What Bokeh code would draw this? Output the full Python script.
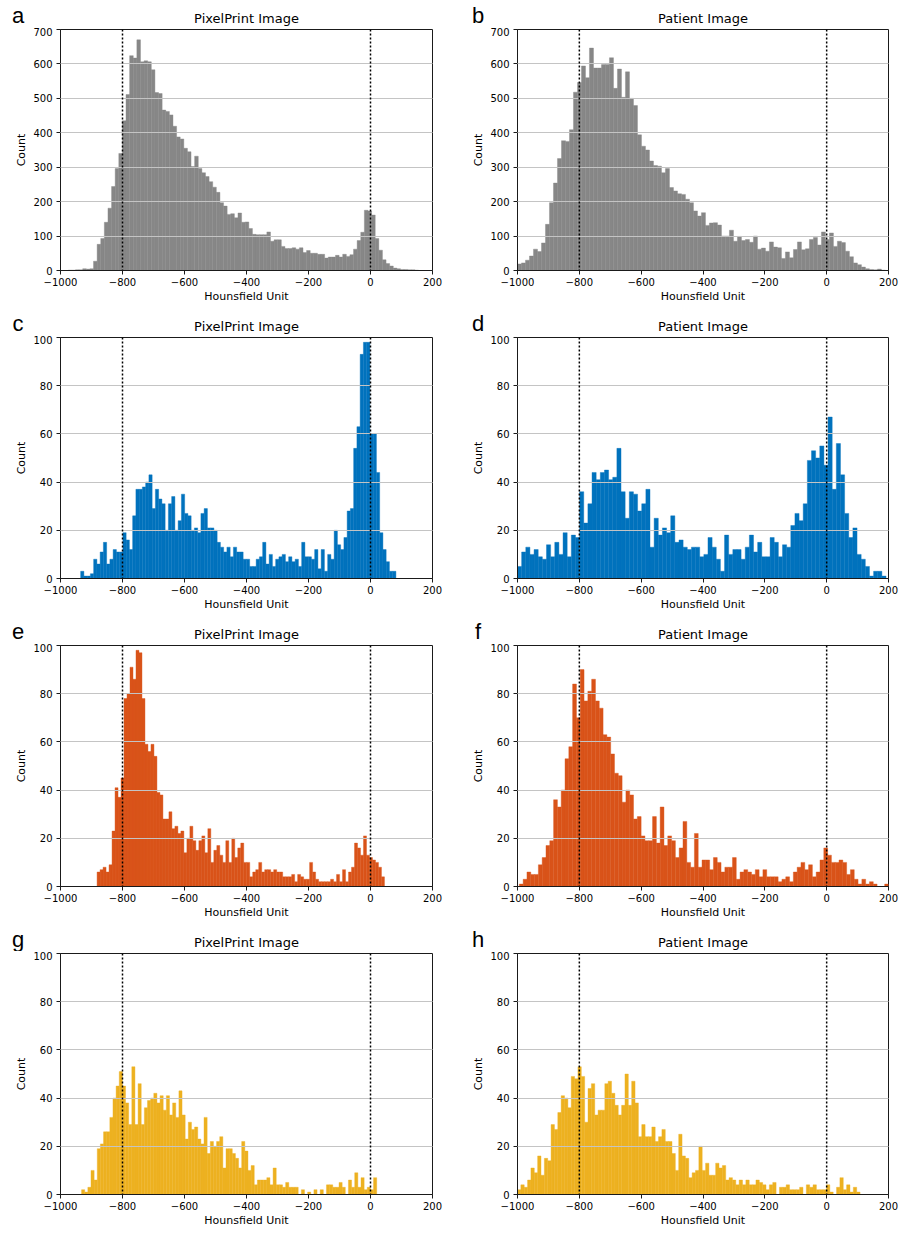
import numpy as np
from bokeh.plotting import figure
from bokeh.layouts import column, row
from bokeh.models import Range1d, FixedTicker, Span, ColumnDataSource
from bokeh.embed import file_html
from bokeh.resources import INLINE

# ---------------- data (histogram counts) ----------------
hu_ticks = [-1000, -800, -600, -400, -200, 0, 200]
hu_tick_labels = ["\u22121000", "\u2212800", "\u2212600", "\u2212400", "\u2212200", "0", "200"]
marker_hu = [-800, 0]
titles = ["PixelPrint Image", "Patient Image"]
letters = ["a", "b", "c", "d", "e", "f", "g", "h"]

# (a) PixelPrint, grey
range_a = (-975, 155)
counts_a = [1, 1, 2, 2, 5, 4, 5, 27, 76, 93, 140, 181, 244, 296, 340, 435, 511, 624, 617, 670,
            606, 609, 606, 583, 517, 514, 466, 462, 452, 419, 388, 382, 355, 345, 302, 332, 296,
            284, 273, 258, 242, 227, 197, 187, 163, 165, 153, 167, 140, 141, 122, 105, 104, 104,
            104, 112, 85, 89, 89, 70, 64, 64, 66, 62, 66, 52, 58, 50, 50, 47, 47, 36, 39, 39, 44,
            39, 47, 41, 46, 62, 87, 111, 175, 173, 161, 93, 59, 31, 20, 13, 7, 5, 3, 3, 2, 2, 1]
# (b) Patient, grey
range_b = (-1000, 190)
counts_b = [19, 22, 30, 42, 62, 55, 80, 134, 197, 254, 325, 377, 375, 409, 518, 546, 594, 560,
            646, 588, 588, 598, 598, 618, 529, 585, 503, 577, 500, 479, 394, 361, 350, 318, 305,
            303, 284, 296, 241, 231, 223, 221, 207, 197, 173, 158, 168, 131, 138, 139, 132, 100,
            100, 117, 85, 99, 87, 90, 82, 100, 62, 65, 56, 83, 68, 66, 35, 54, 37, 61, 83, 60, 63,
            90, 96, 74, 112, 90, 109, 70, 85, 81, 56, 40, 22, 17, 10, 5, 3, 2, 4, 1]
# (c) PixelPrint, blue
range_c = (-935, 82)
counts_c = [3, 1, 1, 2, 8, 6, 11, 15, 6, 8, 12, 11, 11, 19, 16, 12, 26, 37, 37, 38, 40, 43, 29,
            37, 33, 31, 20, 31, 34, 20, 24, 35, 27, 26, 20, 21, 19, 27, 29, 21, 21, 20, 15, 13,
            11, 13, 9, 13, 11, 11, 8, 8, 5, 5, 8, 9, 15, 6, 10, 5, 8, 9, 10, 7, 9, 7, 8, 5, 15, 9,
            9, 8, 12, 4, 12, 3, 10, 8, 20, 14, 12, 17, 28, 29, 54, 63, 93, 98, 98, 60, 60, 44, 19,
            12, 7, 3, 3]
# (d) Patient, blue
range_d = (-1000, 192)
counts_d = [5, 11, 13, 10, 12, 9, 8, 14, 9, 15, 10, 19, 9, 18, 17, 36, 23, 31, 44, 41, 44, 45,
            41, 42, 54, 36, 25, 36, 35, 28, 31, 37, 13, 25, 18, 21, 19, 26, 15, 16, 13, 12, 13,
            13, 9, 10, 17, 13, 8, 3, 18, 10, 12, 12, 8, 13, 18, 11, 15, 9, 9, 17, 15, 9, 14, 13,
            22, 27, 24, 31, 49, 53, 50, 55, 47, 67, 37, 56, 43, 27, 17, 21, 10, 8, 5, 1, 3, 3, 1]
# (e) PixelPrint, orange
range_e = (-882, 45)
counts_e = [6, 7, 8, 6, 9, 23, 41, 37, 45, 78, 80, 91, 86, 98, 97, 78, 59, 56, 59, 54, 39, 38,
            28, 28, 31, 24, 25, 22, 23, 14, 20, 25, 19, 15, 19, 21, 14, 24, 10, 15, 17, 13, 10,
            19, 10, 20, 12, 16, 18, 10, 10, 4, 6, 7, 10, 6, 7, 7, 6, 7, 6, 6, 4, 4, 4, 5, 2, 5, 4,
            3, 3, 10, 6, 3, 2, 2, 2, 2, 3, 2, 5, 2, 7, 2, 6, 8, 18, 16, 13, 21, 13, 12, 11, 10, 8, 4]
# (f) Patient, orange
range_f = (-994, 200)
counts_f = [1, 3, 6, 5, 5, 9, 12, 17, 19, 36, 33, 40, 53, 58, 84, 70, 90, 77, 81, 86, 77, 74, 63,
            62, 55, 47, 46, 35, 40, 38, 28, 29, 21, 19, 19, 29, 18, 33, 17, 21, 19, 12, 16, 27, 10,
            8, 22, 8, 11, 11, 7, 12, 10, 6, 8, 8, 12, 3, 6, 7, 6, 5, 7, 4, 7, 4, 4, 4, 2, 3, 4, 2,
            6, 8, 10, 7, 9, 4, 6, 11, 16, 13, 10, 10, 11, 10, 5, 7, 3, 1, 3, 1, 2, 1, 0, 0, 1]
# (g) PixelPrint, yellow
range_g = (-932, 20)
counts_g = [2, 1, 3, 10, 6, 19, 21, 26, 26, 32, 40, 45, 51, 45, 38, 29, 53, 29, 46, 29, 36, 39,
            40, 42, 38, 41, 35, 41, 33, 38, 32, 43, 33, 23, 30, 27, 28, 23, 21, 32, 17, 22, 20,
            22, 24, 11, 19, 19, 17, 15, 11, 22, 18, 10, 12, 4, 6, 6, 6, 7, 4, 11, 4, 4, 3, 5, 3, 3,
            3, 0, 2, 0, 1, 0, 2, 0, 2, 0, 4, 4, 3, 3, 5, 3, 0, 6, 3, 9, 3, 7, 2, 3, 2, 7]
# (h) Patient, yellow
range_h = (-1000, 108)
counts_h = [2, 4, 3, 6, 11, 9, 16, 8, 15, 14, 29, 27, 34, 41, 40, 36, 49, 48, 53, 49, 30, 44, 46,
            33, 35, 35, 46, 47, 42, 37, 33, 37, 50, 37, 47, 38, 24, 29, 24, 24, 28, 22, 24, 27,
            22, 22, 17, 10, 25, 16, 15, 7, 9, 10, 20, 10, 13, 8, 8, 13, 11, 12, 6, 7, 6, 4, 6, 4,
            6, 4, 4, 6, 5, 4, 2, 4, 5, 0, 3, 3, 4, 2, 2, 2, 3, 0, 4, 3, 4, 2, 2, 2, 4, 1, 0, 3, 7,
            2, 4, 1, 3, 1]

colors = ["#878787", "#0072BD", "#D95319", "#EDB120"]
y_max = [700, 100, 100, 100]
y_step = [100, 20, 20, 20]

FONT = "DejaVu Sans"
INK = "#1a1a1a"
PAGE_W = 903
LEFT_FIG = (60, 372, 28)    # border left, frame width, border right
RIGHT_FIG = (57, 371, 15)
FRAME_H = 241
TOP_B = 2                   # panel border above the frame (room for the top tick label)


def panel(counts, hu_range, color, ymax, ystep, left, b_bottom):
    n = len(counts)
    edges = np.linspace(hu_range[0], hu_range[1], n + 1)
    bl, fw, br = LEFT_FIG if left else RIGHT_FIG
    p = figure(width=bl + fw + br, height=FRAME_H + b_bottom + TOP_B, output_backend="svg",
               toolbar_location=None, x_range=Range1d(-1000, 200), y_range=Range1d(0, ymax),
               min_border_left=bl, min_border_right=br, min_border_top=TOP_B,
               min_border_bottom=b_bottom, background_fill_color="white",
               border_fill_color="white")
    p.quad(left=edges[:-1], right=edges[1:], bottom=0, top=counts,
           fill_color=color, line_color=color, line_width=0.4)

    yt = list(range(0, ymax + 1, ystep))
    p.xaxis.ticker = FixedTicker(ticks=hu_ticks)
    p.xaxis.major_label_overrides = {t: s for t, s in zip(hu_ticks, hu_tick_labels)}
    p.yaxis.ticker = FixedTicker(ticks=yt)
    p.xgrid.visible = False
    p.ygrid.ticker = FixedTicker(ticks=yt[1:-1])
    p.ygrid.grid_line_color = "#c4c4c4"
    p.ygrid.grid_line_width = 1
    p.ygrid.level = "annotation"

    for ax in (p.xaxis[0], p.yaxis[0]):
        ax.axis_line_color = INK
        ax.major_tick_line_color = INK
        ax.major_tick_out = 4
        ax.major_tick_in = 0
        ax.minor_tick_line_color = None
        ax.major_label_text_font = FONT
        ax.major_label_text_font_size = "10px"
        ax.major_label_text_color = "black"
        ax.axis_label_text_font = FONT
        ax.axis_label_text_font_size = "11px"
        ax.axis_label_text_font_style = "normal"
        ax.axis_label_text_color = "black"
    p.xaxis.axis_label = "Hounsfield Unit"
    p.yaxis.axis_label = "Count"
    p.xaxis.major_label_standoff = 3
    p.xaxis.axis_label_standoff = 1
    p.yaxis.major_label_standoff = 4
    p.yaxis.axis_label_standoff = 2

    p.outline_line_color = INK
    p.outline_line_width = 1

    for m in marker_hu:
        p.add_layout(Span(location=m, dimension="height", line_color="black",
                          line_width=1.5, line_dash="2 2"))
    return p


def header(height, row_letters):
    """Strip above a row of panels holding the panel letters and titles."""
    h = figure(width=PAGE_W, height=height, output_backend="svg", toolbar_location=None,
               x_range=Range1d(0, PAGE_W), y_range=Range1d(0, height),
               x_axis_type=None, y_axis_type=None, min_border=0,
               min_border_left=0, min_border_right=0, min_border_top=0, min_border_bottom=0,
               background_fill_color="white", border_fill_color="white")
    h.outline_line_color = None
    h.xgrid.visible = False
    h.ygrid.visible = False
    lb, lw, lr = LEFT_FIG
    rb, rw, rr = RIGHT_FIG
    left_x0 = lb
    right_x0 = lb + lw + lr + rb
    title_src = ColumnDataSource(dict(x=[left_x0 + lw / 2, right_x0 + rw / 2],
                                      y=[11.5 - TOP_B] * 2, t=titles))
    h.text(x="x", y="y", text="t", source=title_src, text_align="center",
           text_baseline="middle", text_font_size="13px", text_font={"value": FONT},
           text_color="black")
    letter_src = ColumnDataSource(dict(x=[left_x0 - 42.5, right_x0 - 39.5],
                                       y=[14 - TOP_B] * 2, t=row_letters))
    h.text(x="x", y="y", text="t", source=letter_src, text_align="center",
           text_baseline="middle", text_font_size="22px",
           text_font={"value": "Liberation Sans"}, text_color="black")
    return h


all_counts = [counts_a, counts_b, counts_c, counts_d, counts_e, counts_f, counts_g, counts_h]
all_ranges = [range_a, range_b, range_c, range_d, range_e, range_f, range_g, range_h]

header_heights = [29 - TOP_B] * 4
bottom_borders = [38, 38, 38, 39]

items = []
for r in range(4):
    items.append(header(header_heights[r], letters[2 * r:2 * r + 2]))
    figs = []
    for c in range(2):
        k = 2 * r + c
        figs.append(panel(all_counts[k], all_ranges[k], colors[r], y_max[r], y_step[r],
                          c == 0, bottom_borders[r]))
    items.append(row(*figs))

layout = column(*items)
open("out.html", "w").write(file_html(layout, INLINE))
